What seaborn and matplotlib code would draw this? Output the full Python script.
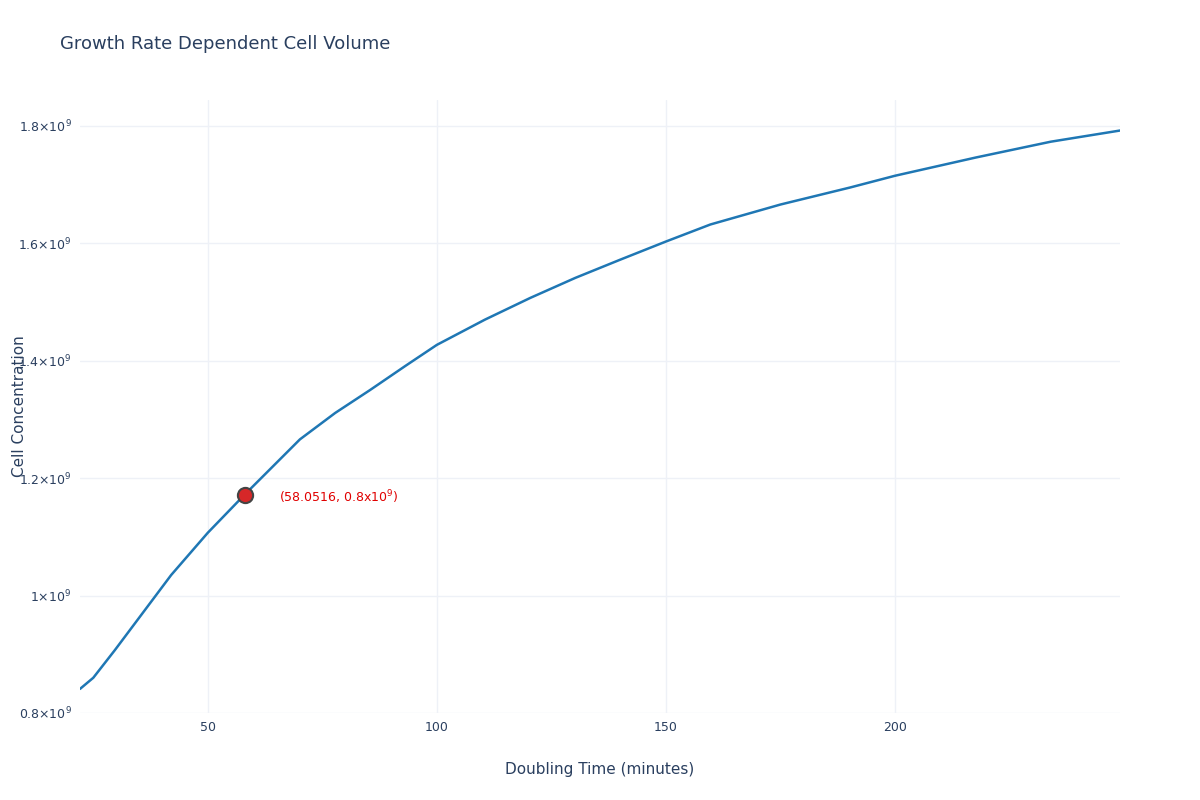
import matplotlib
matplotlib.use("Agg")
import matplotlib.pyplot as plt
import seaborn as sns
import pandas as pd

doubling_time = [22.1, 25, 29.7, 42, 50, 58.05, 70.1, 77.8, 85.4, 93.1, 100, 110.5, 120.4,
                 130.2, 140, 150, 159.7, 175, 190.2, 200, 217.6, 234, 249.1]
cell_conc = [0.841, 0.86, 0.907, 1.035, 1.107, 1.172, 1.266, 1.311, 1.35, 1.391, 1.427, 1.470,
             1.507, 1.541, 1.572, 1.603, 1.632, 1.666, 1.695, 1.715, 1.746, 1.773, 1.792]
cell_conc = [v * 1e9 for v in cell_conc]
point_x = [58.0516]
point_y = [1.172e9]
point_label = "(58.0516, 0.8x10$^{9}$)"
yticks = [0.8e9, 1.0e9, 1.2e9, 1.4e9, 1.6e9, 1.8e9]
ytick_labels = ["0.8×10$^{9}$", "1×10$^{9}$", "1.2×10$^{9}$", "1.4×10$^{9}$", "1.6×10$^{9}$", "1.8×10$^{9}$"]
xticks = [50, 100, 150, 200]

sns.set_theme(style="white")
plt.rcParams["font.family"] = ["DejaVu Sans"]
fig = plt.figure(figsize=(12, 8), dpi=100)
ax = fig.add_axes([80/1200, 1-713/800, 1040/1200, 613/800])
df = pd.DataFrame({"x": doubling_time, "y": cell_conc})
sns.lineplot(data=df, x="x", y="y", ax=ax, color="#1f77b4", linewidth=1.8)
ax.scatter(point_x, point_y, s=120, color="#d62728", edgecolor="#444444", linewidth=1.5, zorder=5)
ax.annotate(point_label, (point_x[0], point_y[0]), xytext=(25, -2), textcoords="offset points",
            color="#e00000", fontsize=9, va="center")
ax.set_xlim(22.1, 249.1)
ax.set_ylim(0.8e9, 1.844e9)
ax.set_xticks(xticks)
ax.set_yticks(yticks)
ax.set_yticklabels(ytick_labels)
ax.grid(True, color="#eef1f7", linewidth=1)
for s in ax.spines.values():
    s.set_visible(False)
ax.tick_params(colors="#2a3f5f", labelsize=9, length=0, pad=6)
ax.set_xlabel("Doubling Time (minutes)", color="#2a3f5f", fontsize=11, labelpad=20)
ax.set_ylabel("")
fig.text(20/1200, 1-406/800, "Cell Concentration", color="#2a3f5f", fontsize=11,
         rotation=90, ha="center", va="center")
fig.text(60/1200, 1-44/800, "Growth Rate Dependent Cell Volume", color="#2a3f5f", fontsize=13, va="center")
fig.savefig("out.png", dpi=100)
